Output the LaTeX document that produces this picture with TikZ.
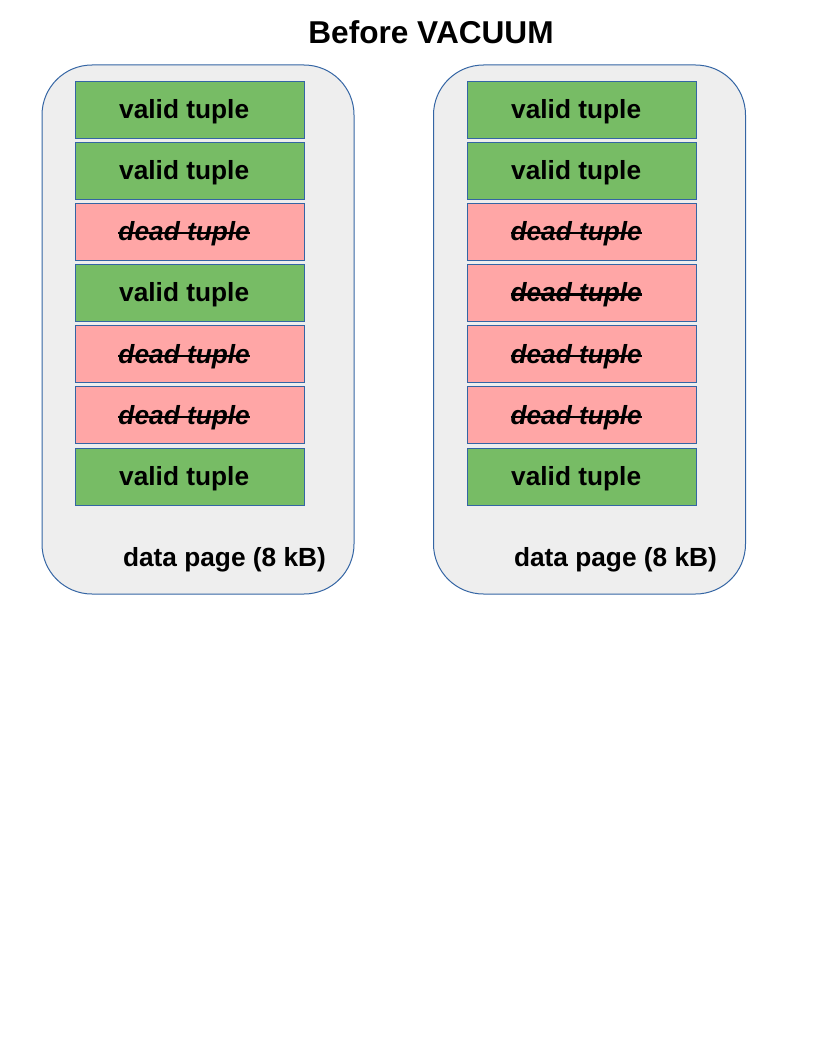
\documentclass[tikz,border=0pt]{standalone}
\usepackage{fontspec}
\setmainfont{Liberation Sans}
\usetikzlibrary{positioning}
\definecolor{pageGray}{HTML}{EEEEEE}
\definecolor{lineBlue}{HTML}{3465A4}
\definecolor{validGreen}{HTML}{77BC65}
\definecolor{deadRed}{HTML}{FFA6A6}
% struck-through text
\newcommand{\struck}[1]{\setbox0\hbox{#1}%
  \rlap{\raisebox{0.24em}{\rule{\wd0}{1.6pt}}}\box0}
% tuple texts, set a little left of the centre
\newcommand{\validtext}{valid tuple\kern8pt}
\newcommand{\deadtext}{{\itshape\struck{dead tuple}}\kern8pt}

\begin{document}
\begin{tikzpicture}
      [ x=0.75pt, y=-0.75pt
      , page/.style={draw=lineBlue, fill=pageGray, line width=0.75pt,
                     rounded corners=37.5pt, minimum width=234pt,
                     minimum height=396.75pt, inner sep=0pt}
      , tuple/.style={draw=lineBlue, line width=0.6pt, minimum width=171.75pt,
                      minimum height=42.75pt, inner sep=0pt,
                      text height=17pt, text depth=3.7pt,
                      font=\fontsize{19.7pt}{22pt}\selectfont\bfseries}
      , valid/.style={tuple, fill=validGreen}
      , dead/.style={tuple, fill=deadRed}
      , caption/.style={font=\fontsize{19.7pt}{22pt}\selectfont\bfseries}
      ]
    \useasboundingbox (0,0) rectangle (816,1056);

    \node[font=\fontsize{23.7pt}{28pt}\selectfont\bfseries] (T) at (431,32) {Before VACUUM};

    \node[page] (PL) at (198,329.5) {};
    \node[page] (PR) at (589.5,329.5) {};

    % left page
    \node[valid] (L1) at (189.5,109.5) {\validtext};
    \node[valid] (L2) at (189.5,170.7) {\validtext};
    \node[dead]  (L3) at (189.5,231.8) {\deadtext};
    \node[valid] (L4) at (189.5,293.0) {\validtext};
    \node[dead]  (L5) at (189.5,354.2) {\deadtext};
    \node[dead]  (L6) at (189.5,415.3) {\deadtext};
    \node[valid] (L7) at (189.5,476.5) {\validtext};

    % right page
    \node[valid] (R1) at (581.5,109.5) {\validtext};
    \node[valid] (R2) at (581.5,170.7) {\validtext};
    \node[dead]  (R3) at (581.5,231.8) {\deadtext};
    \node[dead]  (R4) at (581.5,293.0) {\deadtext};
    \node[dead]  (R5) at (581.5,354.2) {\deadtext};
    \node[dead]  (R6) at (581.5,415.3) {\deadtext};
    \node[valid] (R7) at (581.5,476.5) {\validtext};

    \node[caption] (CL) at (224.5,559.5) {data page (8 kB)};
    \node[caption] (CR) at (615.5,559.5) {data page (8 kB)};
\end{tikzpicture}
\end{document}
